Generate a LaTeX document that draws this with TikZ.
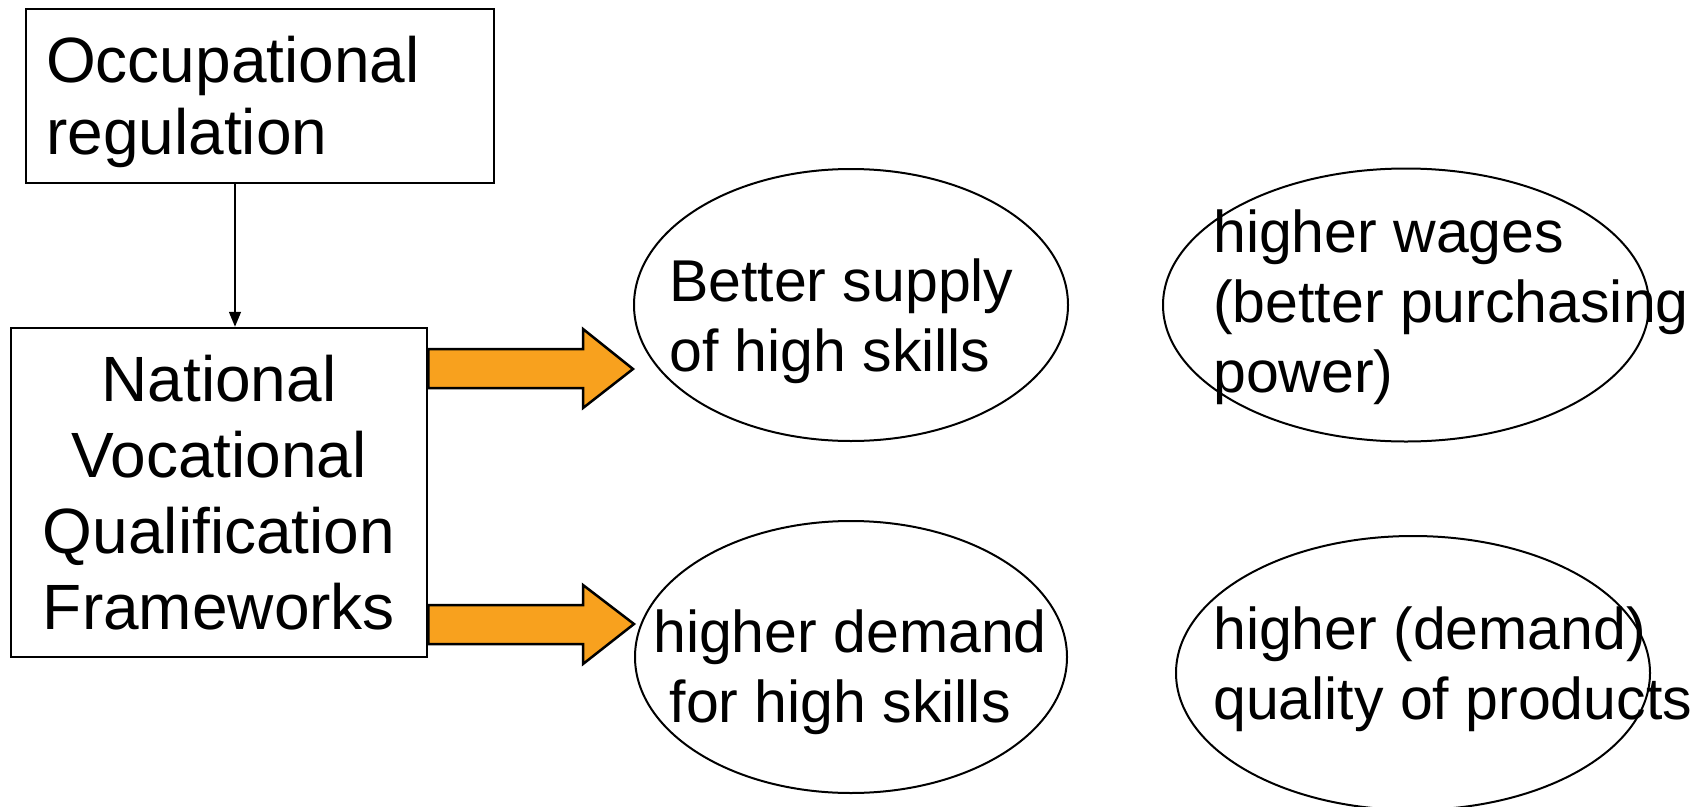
\documentclass[tikz,border=0pt]{standalone}
\usepackage{fontspec}
\setmainfont{Liberation Sans}
\usetikzlibrary{arrows.meta,shapes.geometric}
\definecolor{arroworange}{RGB}{248,161,30}

\begin{document}
\begin{tikzpicture}[x=1pt, y=-1pt]
	\tikzstyle{every node}=[inner sep=0pt]
	\tikzstyle{box}=[draw, line width=2pt]
	\tikzstyle{oval}=[draw, ellipse, line width=2pt]
	\tikzstyle{ovaltext}=[anchor=north west, align=left, font=\fontsize{59}{70}\selectfont]
	\tikzstyle{fat}=[draw, line width=2.5pt, fill=arroworange, line join=miter]
	\useasboundingbox (0,0) rectangle (1700,806);

	\node[box, minimum width=468pt, minimum height=174pt] (occ) at (260,96) {};
	\node[anchor=north west, align=left, font=\fontsize{64}{72}\selectfont] (occtext) at (46,36) {Occupational\\regulation};
	\node[box, line width=2.5pt, minimum width=416pt, minimum height=329pt, align=center, font=\fontsize{64}{76}\selectfont] (nvqf) at (219,492.5) {National\\Vocational\\Qualification\\Frameworks};

	\node[oval, minimum width=434pt, minimum height=272pt] (supply) at (851,305) {};
	\node[oval, minimum width=486pt, minimum height=273pt] (wages) at (1406,305) {};
	\node[oval, minimum width=432pt, minimum height=272pt] (demand) at (851,657) {};
	\node[oval, minimum width=474pt, minimum height=274pt] (quality) at (1413,673) {};

	\node[ovaltext] (supplytext) at (669,259) {Better supply\\of high skills};
	\node[ovaltext] (wagestext) at (1213,210) {higher wages\\(better purchasing\\power)};
	\node[ovaltext] (demandtext) at (653,610) {higher demand\\\hspace*{.278em}for high skills};
	\node[ovaltext] (qualitytext) at (1213,607) {higher (demand)\\quality of products};

	\draw[line width=1.5pt, -{Triangle[width=12pt,length=15pt]}] ([xshift=-25pt]occ.south) -- ([xshift=-25pt]occ.south |- nvqf.north);

	\draw[fat] (nvqf.east |- 0,349) -- (583,349) -- (583,329) -- (supply.west |- 0,369) -- (583,408) -- (583,388) -- (nvqf.east |- 0,388) -- cycle;
	\draw[fat] (nvqf.east |- 0,605) -- (583,605) -- (583,585) -- (demand.west |- 0,624) -- (583,664) -- (583,644) -- (nvqf.east |- 0,644) -- cycle;
\end{tikzpicture}
\end{document}
